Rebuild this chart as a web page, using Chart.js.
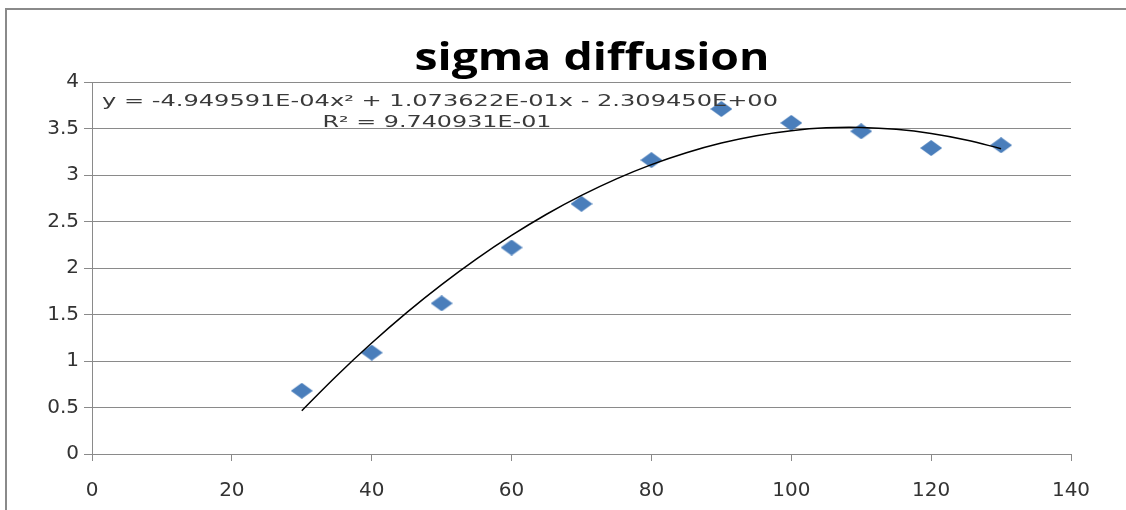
<!DOCTYPE html>
<html>
<head>
<meta charset="utf-8">
<script src="https://cdn.jsdelivr.net/npm/chart.js@4.4.0/dist/chart.umd.min.js"></script>
<style>
    html, body { margin: 0; padding: 0; background: #fff; overflow: hidden; }
    #wrap { position: relative; width: 1126px; height: 510px; }
    #frame {
        position: absolute; left: 5px; top: 8px; width: 1200px; height: 600px;
        border: 2px solid #8a8a8a; box-sizing: border-box;
    }
    canvas { position: absolute; left: 0; top: 0; }
</style>
</head>
<body>
<div id="wrap">
    <div id="frame"></div>
    <canvas id="chart" width="1126" height="510"></canvas>
</div>
<script>
const chartTitle = 'sigma diffusion';
const equationLine = 'y = -4.949591E-04x\u00B2 + 1.073622E-01x - 2.309450E+00';
const r2Line = 'R\u00B2 = 9.740931E-01';

// measured points
const xValues = [30, 40, 50, 60, 70, 80, 90, 100, 110, 120, 130];
const sigmaValues = [0.68, 1.09, 1.62, 2.22, 2.69, 3.16, 3.71, 3.56, 3.47, 3.29, 3.32];

// polynomial trendline
const trendX = [30, 35, 40, 45, 50, 55, 60, 65, 70, 75, 80, 85, 90, 95, 100, 105, 110, 115, 120, 125, 130];
const trendY = [0.466, 0.842, 1.193, 1.520, 1.821, 2.098, 2.350, 2.578, 2.781, 2.959, 3.112, 3.240, 3.344, 3.423, 3.477, 3.507, 3.511, 3.491, 3.447, 3.377, 3.283];

const xTicks = [0, 20, 40, 60, 80, 100, 120, 140];
const yTicks = [0, 0.5, 1, 1.5, 2, 2.5, 3, 3.5, 4];

// diamond marker, a bit wider than tall like the original
function makeDiamond(w, h, color) {
    const c = document.createElement('canvas');
    c.width = w; c.height = h;
    const g = c.getContext('2d');
    g.fillStyle = color;
    g.beginPath();
    g.moveTo(w / 2, 0);
    g.lineTo(w, h / 2);
    g.lineTo(w / 2, h);
    g.lineTo(0, h / 2);
    g.closePath();
    g.fill();
    return c;
}
const diamond = makeDiamond(22, 16, '#4A7EBB');

// draws text squeezed/stretched to a given width
function fitText(ctx, text, cx, baseline, width, font, color) {
    ctx.save();
    ctx.font = font;
    ctx.fillStyle = color;
    ctx.textBaseline = 'alphabetic';
    ctx.textAlign = 'left';
    const w = ctx.measureText(text).width;
    const sx = width / w;
    ctx.translate(cx - width / 2, baseline);
    ctx.scale(sx, 1);
    ctx.fillText(text, 0, 0);
    ctx.restore();
}

const textPlugin = {
    id: 'texts',
    afterDraw(chart) {
        const ctx = chart.ctx;
        fitText(ctx, chartTitle, 592, 70, 355, 'bold 38px "Open Sans"', '#000');
        fitText(ctx, equationLine, 440, 106, 676, '15px "DejaVu Sans"', '#3a3a3a');
        fitText(ctx, r2Line, 437, 127, 229, '15px "DejaVu Sans"', '#3a3a3a');
    }
};

new Chart(document.getElementById('chart'), {
    type: 'scatter',
    data: {
        datasets: [
            {
                label: 'trend',
                data: trendX.map((x, i) => ({ x: x, y: trendY[i] })),
                showLine: true,
                borderColor: '#000',
                borderWidth: 1.5,
                pointRadius: 0,
                tension: 0.4,
                order: 0
            },
            {
                label: 'sigma',
                data: xValues.map((x, i) => ({ x: x, y: sigmaValues[i] })),
                pointStyle: diamond,
                pointRadius: 11,
                order: 1
            }
        ]
    },
    options: {
        responsive: false,
        animation: false,
        layout: { padding: { left: 0, right: 55, top: 82, bottom: 0 } },
        plugins: {
            legend: { display: false },
            title: { display: false },
            tooltip: { enabled: false }
        },
        scales: {
            x: {
                type: 'linear',
                min: 0, max: 140,
                afterBuildTicks: s => { s.ticks = xTicks.map(v => ({ value: v })); },
                afterFit: s => { s.height = 56; },
                grid: { drawOnChartArea: false, drawTicks: true, tickLength: 7, color: '#8a8a8a' },
                border: { color: '#8a8a8a', width: 1 },
                ticks: {
                    padding: 18,
                    color: '#333',
                    font: { family: 'DejaVu Sans', size: 20 },
                    callback: v => String(v)
                }
            },
            y: {
                min: 0, max: 4,
                afterBuildTicks: s => { s.ticks = yTicks.map(v => ({ value: v })); },
                afterFit: s => { s.width = 92; },
                grid: { drawTicks: true, tickLength: 8, color: '#8a8a8a' },
                border: { color: '#8a8a8a', width: 1 },
                ticks: {
                    padding: 5,
                    color: '#333',
                    font: { family: 'DejaVu Sans', size: 20 },
                    callback: v => String(v)
                }
            }
        }
    },
    plugins: [textPlugin]
});
</script>
</body>
</html>
